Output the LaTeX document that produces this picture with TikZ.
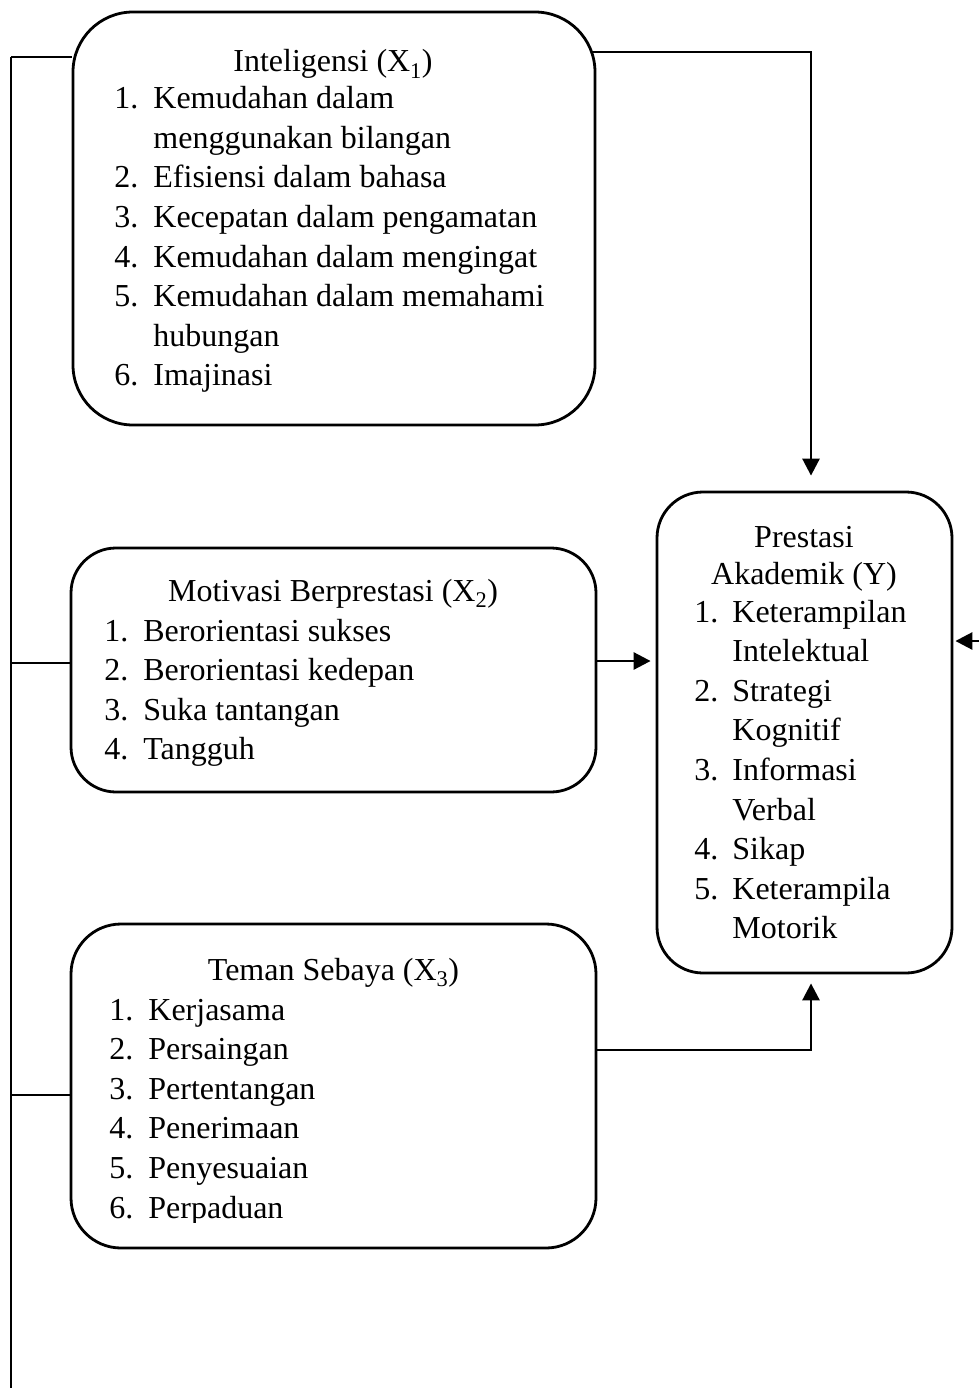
\documentclass[tikz,border=0pt]{standalone}
\usepackage{fontspec}
\setmainfont{Liberation Serif}
\usetikzlibrary{arrows.meta,calc}
\begin{document}
\begin{tikzpicture}[x=1pt,y=-1pt,line width=2.8pt,
  box/.style={draw,rounded corners=#1,inner sep=0pt},
  txt/.style={anchor=base west,inner sep=0pt,font=\fontsize{32}{39}\selectfont},
  ttl/.style={anchor=base,inner sep=0pt,font=\fontsize{32}{39}\selectfont},
  arr/.style={-{Triangle[length=17pt,width=17pt]}}]
\useasboundingbox (0,0) rectangle (979,1388);
% boxes
\node[box=60pt,minimum width=522pt,minimum height=413pt] (x1) at (334,218.5) {};
\node[box=45pt,minimum width=525pt,minimum height=244pt] (x2) at (333.5,670) {};
\node[box=50pt,minimum width=525pt,minimum height=324pt] (x3) at (333.5,1086) {};
\node[box=46pt,minimum width=295pt,minimum height=481pt] (y) at (804.5,732.5) {};
% box 1 text
\node[ttl] (x1h) at (333,72) {Inteligensi (X\textsubscript{1})};
\begin{scope}
\clip (0,0) rectangle (979,392);
\foreach \n/\t/\yy [count=\i] in {1./Kemudahan dalam/109,{}/menggunakan bilangan/148.5,2./Efisiensi dalam bahasa/188,3./Kecepatan dalam pengamatan/227.5,4./Kemudahan dalam mengingat/267,5./Kemudahan dalam memahami/306.5,{}/hubungan/346,6./Imajinasi/385.5}{
  \node[txt] (x1n\i) at (113,\yy) {\n};
  \node[txt] (x1t\i) at (152,\yy) {\t};
}
\end{scope}
% box 2 text
\node[ttl] (x2h) at (333,601) {Motivasi Berprestasi (X\textsubscript{2})};
\foreach \n/\t/\yy [count=\i] in {1./Berorientasi sukses/641,2./Berorientasi kedepan/680.5,3./Suka tantangan/720,4./Tangguh/759.5}{
  \node[txt] (x2n\i) at (103,\yy) {\n};
  \node[txt] (x2t\i) at (142,\yy) {\t};
}
% box 3 text
\node[ttl] (x3h) at (333.5,980) {Teman Sebaya (X\textsubscript{3})};
\begin{scope}
\clip (0,0) rectangle (979,1222);
\foreach \n/\t/\yy [count=\i] in {1./Kerjasama/1020,2./Persaingan/1059.6,3./Pertentangan/1099.2,4./Penerimaan/1138.8,5./Penyesuaian/1178.4,6./Perpaduan/1218}{
  \node[txt] (x3n\i) at (108,\yy) {\n};
  \node[txt] (x3t\i) at (147,\yy) {\t};
}
\end{scope}
% box Y text
\node[ttl] (yh1) at (804,547) {Prestasi};
\node[ttl] (yh2) at (804,584) {Akademik (Y)};
\foreach \n/\t/\yy [count=\i] in {1./Keterampilan/622,{}/Intelektual/661.6,2./Strategi/701.2,{}/Kognitif/740.8,3./Informasi/780.4,{}/Verbal/820,4./Sikap/859.6,5./Keterampila/899.2,{}/Motorik/938.8}{
  \node[txt] (yn\i) at (693,\yy) {\n};
  \node[txt] (yt\i) at (731,\yy) {\t};
}
% connectors
\coordinate (l0) at (11,57);
\coordinate (l1) at (11,1388);
\coordinate (l2) at (11,663);
\coordinate (l3) at (11,1095);
\draw (l0) -- (l1);
\draw (l0) -- (x1.west |- l0);
\draw (l2) -- (x2.west |- l2);
\draw (l3) -- (x3.west |- l3);
\coordinate (a1) at (592,52);
\draw[arr] (a1) -| ([xshift=6.5pt,yshift=15pt]y.north);
\coordinate (a2) at (596,661);
\draw[arr] (a2) -- ([xshift=-5pt]y.west |- a2);
\coordinate (a3) at (596,1050);
\draw[arr] (a3) -| ([xshift=6.5pt,yshift=-9pt]y.south);
\coordinate (r0) at (979,641);
\draw[arr] (r0) -- ([xshift=2pt]y.east |- r0);
\end{tikzpicture}
\end{document}
